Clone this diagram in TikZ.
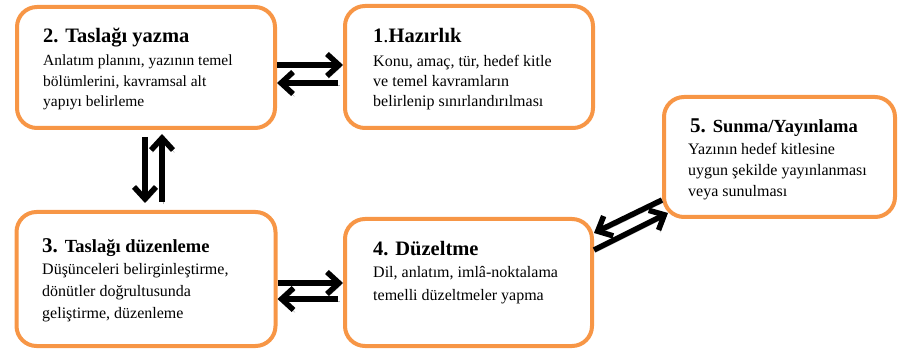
\documentclass[tikz,border=0pt]{standalone}
\usepackage{fontspec}
\setmainfont{Liberation Serif}
\usetikzlibrary{arrows.meta,calc}
\definecolor{stageorange}{HTML}{F79646}
\begin{document}
\begin{tikzpicture}[x=1pt,y=-1pt,
  stage/.style={draw=stageorange, line width=4pt, rounded corners=20pt, fill=white, inner sep=0pt, outer sep=2pt},
  flow/.style={line width=5.5pt, -{Straight Barb[length=12pt,width=22pt]},
    preaction={draw=black!30, transform canvas={shift={(1.5pt,-2.5pt)}}}},
  stagetitle/.style={anchor=base west, inner sep=0pt, font=\bfseries\fontsize{20.5}{24}\selectfont},
  stagebody/.style={anchor=base west, inner sep=0pt},
]
\useasboundingbox (0,0) rectangle (898,350);

% stage boxes
\node[stage, minimum width=258pt, minimum height=121pt] (b2) at (146,67.5) {};
\node[stage, minimum width=248pt, minimum height=122pt] (b1) at (469,67) {};
\node[stage, minimum width=231pt, minimum height=120pt] (b5) at (779.5,157) {};
\node[stage, minimum width=259pt, minimum height=134pt] (b3) at (146,279) {};
\node[stage, minimum width=247pt, minimum height=127pt] (b4) at (468.5,282.5) {};

% titles
\node[stagetitle] (t2) at (43,43) {2. Taslağı yazma};
\node[stagetitle] (t1) at (373,43) {1\textmd{.}Hazırlık};
\node[stagetitle] (t5) at (690,133) {{\fontsize{21}{24}\selectfont 5.} {\fontsize{18.5}{22}\selectfont Sunma/Yayınlama}};
\node[stagetitle] (t3) at (42,253) {{\fontsize{21}{24}\selectfont 3.} {\fontsize{18.5}{22}\selectfont Taslağı düzenleme}};
\node[stagetitle] (t4) at (373,255) {4. Düzeltme};

% descriptions
\node[stagebody] (d2) at (43,66) {\parbox[t]{230pt}{\fontsize{15.5}{20.5}\selectfont\raggedright
  Anlatım planını, yazının temel\\ bölümlerini, kavramsal alt\\ yapıyı belirleme}};
\node[stagebody] (d1) at (373,67) {\parbox[t]{215pt}{\fontsize{16}{20}\selectfont\raggedright
  Konu, amaç, tür, hedef kitle\\ ve temel kavramların\\ belirlenip sınırlandırılması}};
\node[stagebody] (d5) at (688,155) {\parbox[t]{205pt}{\fontsize{16}{21}\selectfont\raggedright
  Yazının hedef kitlesine\\ uygun şekilde yayınlanması\\ veya sunulması}};
\node[stagebody] (d3) at (42,274) {\parbox[t]{230pt}{\fontsize{16}{22}\selectfont\raggedright
  Düşünceleri belirginleştirme,\\ dönütler doğrultusunda\\ geliştirme, düzenleme}};
\node[stagebody] (d4) at (373,277) {\parbox[t]{215pt}{\fontsize{16}{23}\selectfont\raggedright
  Dil, anlatım, imlâ-noktalama\\ temelli düzeltmeler yapma}};

% two-way connectors
\draw[flow] (b2.east |- 0,65) -- (b1.west |- 0,65);
\draw[flow, shorten <=5pt] (b1.west |- 0,83) -- (b2.east |- 0,83);

\draw[flow, shorten <=7pt, shorten >=7pt] (b2.south -| 145,0) -- (b3.north -| 145,0);
\draw[flow, shorten <=8pt, shorten >=4pt] (b3.north -| 162,0) -- (b2.south -| 162,0);

\draw[flow] (b3.east |- 0,283) -- (b4.west |- 0,283);
\draw[flow, shorten <=5pt] (b4.west |- 0,299) -- (b3.east |- 0,299);

\coordinate (d5a) at ($(b5.south west)+(6,-6)$);
\draw[flow] (b5.west |- 0,200) -- (b4.east |- 0,233);
\draw[flow] (b4.east |- 0,250) -- (d5a);
\end{tikzpicture}
\end{document}
